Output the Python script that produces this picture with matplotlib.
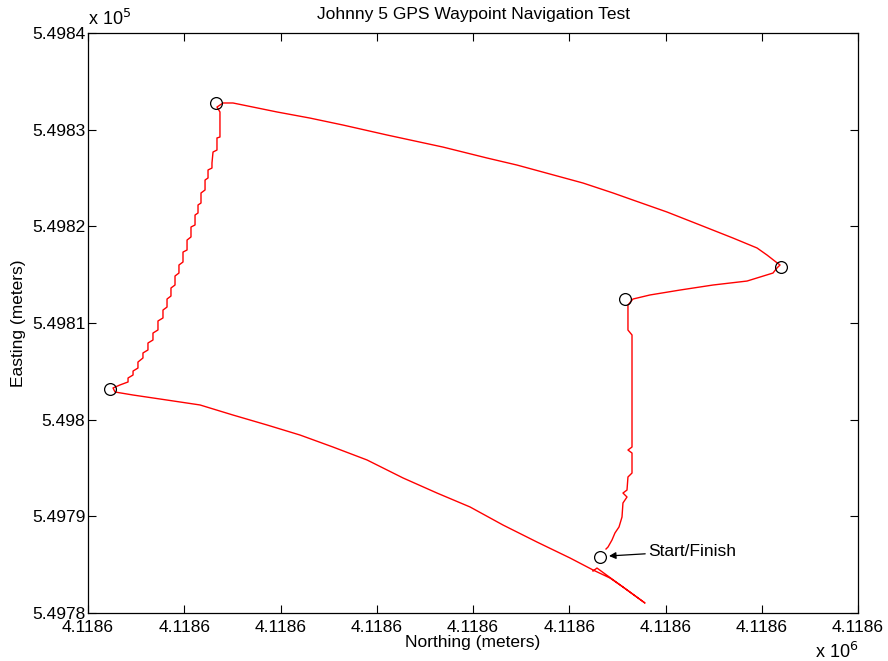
import matplotlib
matplotlib.use('Agg')
from matplotlib import pyplot as plt
from matplotlib.ticker import FuncFormatter, MultipleLocator

# local origin of the survey grid (meters)
north0 = 4118560.0
east0 = 549780.0

# GPS track, offsets from origin in meters
north_off = [53.82, 54.03, 54.44, 54.75, 55.17, 55.48, 55.58, 56.00, 55.58, 56.00,
             56.10, 56.52, 56.52, 56.10, 56.52, 56.52, 56.10, 56.10, 56.62, 58.39,
             61.51, 64.94, 68.47, 71.17, 71.58, 71.90, 71.48, 70.55, 69.51, 67.01,
             63.58, 60.16, 56.62, 54.55, 51.43, 48.00, 44.57, 41.45, 36.88, 31.06,
             26.49, 23.06, 19.64, 16.10, 15.06, 14.03, 13.40, 13.71, 13.71, 13.40,
             13.40, 12.99,
             12.88, 12.88, 12.47, 12.47, 12.16, 12.16, 11.74, 11.74, 11.43, 11.43,
             11.12, 11.12, 10.70, 10.70, 10.29, 10.29, 9.87, 9.87, 9.45, 9.45,
             9.04, 9.04, 8.62, 8.62, 8.21, 8.21, 7.79, 7.79, 7.27, 7.27,
             6.75, 6.75, 6.23, 6.23, 5.71, 5.71, 5.19, 5.19, 4.68, 4.68,
             4.16, 4.16, 3.32, 2.60,
             2.81, 4.68, 8.21, 11.64, 15.06, 18.60, 22.03, 25.45, 28.99, 32.73,
             36.26, 39.69, 43.12, 46.65, 50.08, 52.47, 54.23, 55.58, 57.87, 52.88,
             52.47]
east_off = [6.62, 6.83, 7.55, 8.28, 8.90, 9.93, 11.38, 12.00, 12.41, 12.72,
            14.07, 14.48, 16.55, 16.86, 17.17, 28.76, 29.27, 31.86, 32.48, 32.90,
            33.41, 33.93, 34.34, 35.17, 35.69, 36.00, 36.31, 37.03, 37.76, 38.79,
            40.14, 41.48, 42.72, 43.45, 44.48, 45.41, 46.34, 47.07, 48.20, 49.45,
            50.48, 51.20, 51.83, 52.55, 52.76, 52.76, 52.34, 51.83, 49.24, 49.14,
            47.89, 47.69,
            46.55, 46.03, 45.83, 45.00, 44.79, 43.76, 43.45, 42.41, 42.21, 41.38,
            41.17, 40.14, 39.93, 38.90, 38.58, 37.55, 37.34, 36.31, 36.00, 35.17,
            34.86, 33.93, 33.62, 32.79, 32.48, 31.65, 31.34, 30.52, 30.21, 29.28,
            28.96, 28.24, 27.93, 27.21, 26.90, 26.38, 25.96, 25.34, 25.03, 24.62,
            24.31, 23.90, 23.59, 23.28,
            22.86, 22.55, 22.03, 21.52, 20.48, 19.45, 18.41, 17.17, 15.83, 13.97,
            12.41, 10.97, 9.10, 7.34, 5.69, 4.45, 3.62, 2.69, 1.03, 4.65,
            4.34]

# waypoints
wp_north_off = [2.29, 13.30, 72.00, 55.79, 53.19]
wp_east_off = [23.17, 52.76, 35.79, 32.48, 5.79]

north = [north0 + v for v in north_off]
east = [east0 + v for v in east_off]
wp_north = [north0 + v for v in wp_north_off]
wp_east = [east0 + v for v in wp_east_off]

plt.rcParams['font.family'] = ['Liberation Sans', 'DejaVu Sans']

fig = plt.figure(figsize=(8.88, 6.61), dpi=100)
ax = fig.add_axes([88 / 888, 48 / 661, 770 / 888, 580 / 661])

ax.plot(north, east, color='#ff0000', linewidth=1.0)
ax.plot(wp_north, wp_east, 'o', markerfacecolor='none', markeredgecolor='k',
        markersize=8.5, markeredgewidth=0.9)

ax.annotate('Start/Finish', xy=(north0 + 54.13, east0 + 5.90),
            xytext=(north0 + 58.18, east0 + 6.41), fontsize=12.5, va='center',
            arrowprops=dict(arrowstyle='-|>', color='k', lw=0.9, mutation_scale=10,
                            shrinkA=0, shrinkB=0))

ax.set_xlim(north0, north0 + 80)
ax.set_ylim(east0, east0 + 60)
ax.xaxis.set_major_locator(MultipleLocator(10))
ax.yaxis.set_major_locator(MultipleLocator(10))
ax.xaxis.set_major_formatter(FuncFormatter(lambda v, p: '%.5g' % (v / 1e6)))
ax.yaxis.set_major_formatter(FuncFormatter(lambda v, p: '%.5g' % (v / 1e5)))
ax.tick_params(direction='in', top=True, right=True, length=6, width=0.8,
               labelsize=12.5)
ax.tick_params(axis='x', pad=5)
ax.tick_params(axis='y', pad=2)
for s in ax.spines.values():
    s.set_linewidth(0.9)

ax.set_title('Johnny 5 GPS Waypoint Navigation Test', fontsize=12.5, pad=10)
ax.set_xlabel('Northing (meters)', fontsize=12.5, labelpad=0)
ax.set_ylabel('Easting (meters)', fontsize=12.5, labelpad=4)

# exponent multipliers, MATLAB style
fig.text(88 / 888, 1 - 19 / 661, r'x 10$^5$', fontsize=13, va='center', ha='left')
fig.text(858 / 888, 1 - 652 / 661, r'x 10$^6$', fontsize=13, va='center', ha='right')

plt.savefig('out.png', dpi=100)
